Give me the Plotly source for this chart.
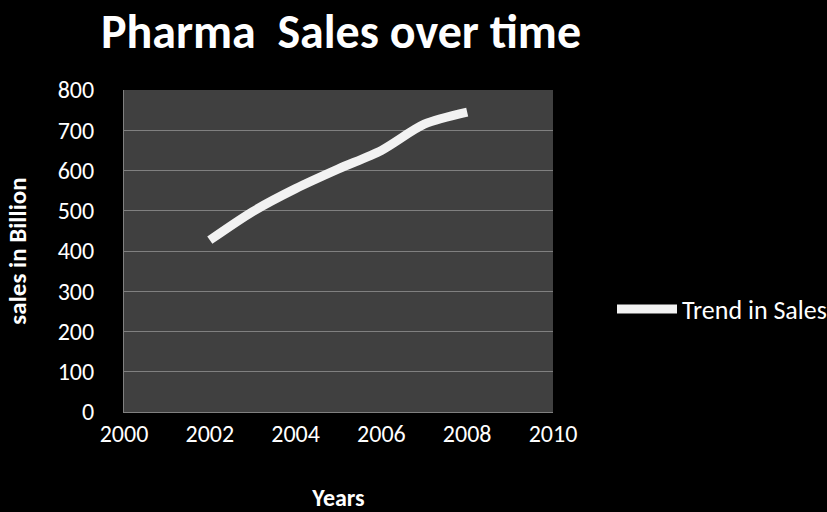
import plotly.graph_objects as go

years = [2002, 2003, 2004, 2005, 2006, 2007, 2008]
sales = [427, 498, 555, 604, 650, 715, 745]
series_name = "Trend in Sales"
title_text = "Pharma  Sales over time"
x_title = "Years"
y_title = "sales in Billion"

FONT = "Carlito, Calibri, Lato, sans-serif"

fig = go.Figure()
fig.add_trace(go.Scatter(
    x=years, y=sales, name=series_name, mode="lines",
    line=dict(color="#f2f2f2", width=9, shape="spline", smoothing=0.8),
    showlegend=True,
))

fig.update_layout(
    width=827, height=512,
    margin=dict(l=124, r=274, t=90, b=100, autoexpand=False),
    paper_bgcolor="#000000",
    plot_bgcolor="#404040",
    font=dict(family=FONT, color="#ffffff", size=24),
    title=dict(text="<b>" + title_text + "</b>", x=341 / 827, xanchor="center",
               y=1 - 31 / 512, yanchor="middle",
               font=dict(size=48, family=FONT, color="#ffffff")),
    showlegend=True,
    legend=dict(x=(612 - 124) / 429, xanchor="left", y=(412 - 309) / 322, yanchor="middle",
                bgcolor="rgba(0,0,0,0)", font=dict(size=26, family=FONT, color="#ffffff"),
                itemwidth=60),
    xaxis=dict(
        range=[2000, 2010], dtick=2, tick0=2000,
        showgrid=False, zeroline=False,
        showline=True, linecolor="#808080", linewidth=1,
        ticks="", ticklen=0,
        tickfont=dict(size=24, family=FONT, color="#ffffff"),
        title=dict(text="<b>" + x_title + "</b>", standoff=80,
                   font=dict(size=24, family=FONT, color="#ffffff")),
    ),
    yaxis=dict(
        range=[0, 800], dtick=100, tick0=0,
        showgrid=True, gridcolor="#808080", gridwidth=1,
        zeroline=False,
        showline=True, linecolor="#808080", linewidth=1,
        ticks="outside", ticklen=24, tickcolor="rgba(0,0,0,0)",
        tickfont=dict(size=24, family=FONT, color="#ffffff"),
        title=dict(text="<b>" + y_title + "</b>", standoff=23,
                   font=dict(size=25, family=FONT, color="#ffffff")),
    ),
)

fig.write_html("out.html")
